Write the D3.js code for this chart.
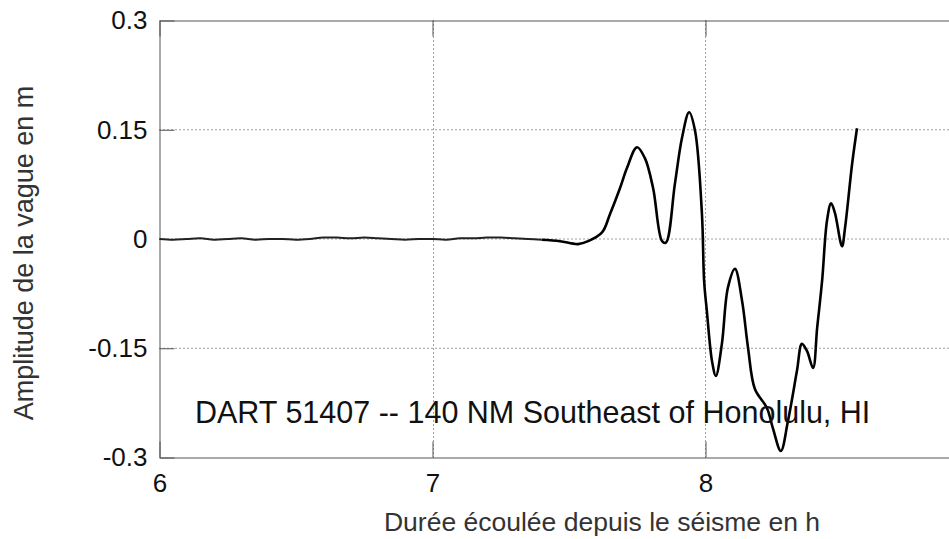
<!DOCTYPE html>
<html lang="fr">
<head>
<meta charset="utf-8">
<title>DART 51407</title>
<script src="https://cdnjs.cloudflare.com/ajax/libs/d3/7.8.5/d3.min.js"></script>
<style>
  body { margin: 0; background: #fff; }
  svg { display: block; font-family: "Liberation Sans", Arial, sans-serif; }
  .axis path, .axis line { stroke: #555; }
  .axis text { fill: #111; font-size: 26px; }
</style>
</head>
<body>
<div id="chart"></div>
<script>
// flat record before the wave arrives (hours after quake, metres)
const flatHours = [6.00, 6.05, 6.10, 6.15, 6.20, 6.25, 6.30, 6.35, 6.40, 6.45, 6.50, 6.55, 6.60, 6.65, 6.70, 6.75, 6.80, 6.85, 6.90, 6.95, 7.00, 7.05, 7.10, 7.15, 7.20, 7.25, 7.30, 7.35, 7.40];
const flatAmp   = [0.000, -0.001, 0.000, 0.001, -0.001, 0.000, 0.001, -0.001, 0.000, 0.000, -0.001, 0.000, 0.002, 0.002, 0.001, 0.002, 0.001, 0.000, -0.001, 0.000, 0.000, -0.001, 0.001, 0.001, 0.002, 0.002, 0.001, 0.000, -0.001];

// tsunami wave
const waveHours = [7.40, 7.467, 7.533, 7.570, 7.621, 7.650, 7.687, 7.712, 7.749, 7.778, 7.808, 7.841, 7.855, 7.888, 7.914, 7.940, 7.962, 7.987, 7.995, 8.005, 8.024, 8.038, 8.060, 8.082, 8.108, 8.134, 8.156, 8.181, 8.225, 8.247, 8.276, 8.302, 8.335, 8.353, 8.372, 8.394, 8.409, 8.427, 8.445, 8.460, 8.474, 8.500, 8.511, 8.537, 8.555];
const waveAmp   = [-0.001, -0.003, -0.007, -0.003, 0.009, 0.034, 0.070, 0.097, 0.126, 0.111, 0.070, -0.003, -0.005, 0.076, 0.139, 0.174, 0.148, 0.034, -0.058, -0.099, -0.168, -0.188, -0.144, -0.067, -0.041, -0.085, -0.150, -0.206, -0.232, -0.260, -0.291, -0.250, -0.181, -0.144, -0.154, -0.177, -0.122, -0.058, 0.025, 0.049, 0.036, -0.010, 0.015, 0.103, 0.152];

const xTicks = [6, 7, 8];
const yTicks = [-0.3, -0.15, 0, 0.15, 0.3];
const yTickLabels = ["-0.3", "-0.15", "0", "0.15", "0.3"];

const w = 949, h = 539;
const padLeft = 159.5, padTop = 20.5, padBottom = 457.5;

const svg = d3.select("#chart").append("svg")
  .attr("width", w).attr("height", h);

const x = d3.scaleLinear().domain([6, 9]).range([padLeft, padLeft + 3 * 273]);
const y = d3.scaleLinear().domain([-0.3, 0.3]).range([padBottom, padTop]);

// grid
svg.append("g").selectAll("line").data([-0.15, 0, 0.15]).join("line")
  .attr("x1", padLeft).attr("x2", w).attr("y1", d => y(d)).attr("y2", d => y(d))
  .attr("stroke", "#444").attr("stroke-dasharray", "1,3");
svg.append("g").selectAll("line").data([7, 8]).join("line")
  .attr("x1", d => Math.round(x(d)) + 0.5).attr("x2", d => Math.round(x(d)) + 0.5)
  .attr("y1", padTop).attr("y2", padBottom)
  .attr("stroke", "#444").attr("stroke-dasharray", "1,3");

// axes
svg.append("g").attr("class", "axis")
  .attr("transform", "translate(" + padLeft + ",0)")
  .call(d3.axisLeft(y).tickValues(yTicks).tickSizeInner(-15).tickSizeOuter(0).tickPadding(12)
    .tickFormat((d, i) => yTickLabels[i]));
svg.append("g").attr("class", "axis")
  .attr("transform", "translate(0," + padBottom + ")")
  .call(d3.axisBottom(x).tickValues(xTicks).tickSizeInner(-16).tickSizeOuter(0).tickPadding(16)
    .tickFormat(d3.format("d")));
svg.append("g").attr("class", "axis")
  .attr("transform", "translate(0," + padTop + ")")
  .call(d3.axisTop(x).tickValues(xTicks).tickSizeInner(-16).tickSizeOuter(0).tickFormat(""));

// curves
const line = d3.line().x(d => x(d[0])).y(d => y(d[1])).curve(d3.curveCatmullRom);
svg.append("path")
  .attr("d", line(flatHours.map((t, i) => [t, flatAmp[i]])))
  .attr("fill", "none").attr("stroke", "#222").attr("stroke-width", 2);
svg.append("path")
  .attr("d", line(waveHours.map((t, i) => [t, waveAmp[i]])))
  .attr("fill", "none").attr("stroke", "#000").attr("stroke-width", 2.6)
  .attr("stroke-linejoin", "round");

// annotation
svg.append("text")
  .attr("x", 195).attr("y", 423)
  .attr("font-size", 30.5).attr("fill", "#111")
  .text("DART 51407 -- 140 NM Southeast of Honolulu, HI");

// axis titles
svg.append("text")
  .attr("transform", "translate(33,253) rotate(-90)")
  .attr("text-anchor", "middle")
  .attr("font-size", 27).attr("fill", "#333")
  .text("Amplitude de la vague en m");
svg.append("text")
  .attr("x", 602).attr("y", 531)
  .attr("text-anchor", "middle")
  .attr("font-size", 26.5).attr("fill", "#333")
  .text("Durée écoulée depuis le séisme en h");
</script>
</body>
</html>
